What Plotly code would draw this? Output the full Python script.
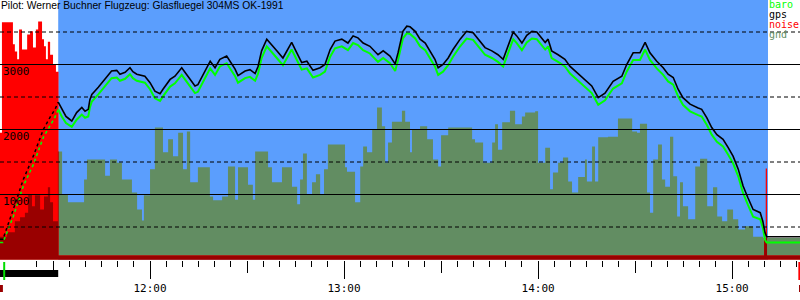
import numpy as np
import plotly.graph_objects as go

# ---------------- data ----------------
title_text = "Pilot: Werner Buchner Flugzeug: Glasfluegel 304MS OK-1991"

x_range = [673.6, 921.0]          # minutes since midnight (11:13.6 .. 15:21)
y_range = [-7.7, 3992.3]          # metres

takeoff_time = 674.9
release_time = 691.6
landing_time = 911.1
log_end_time = 920.8

hour_ticks = [720, 780, 840, 900]
hour_labels = ["12:00", "13:00", "14:00", "15:00"]
half_hour_ticks = [690, 750, 810, 870]
alt_ticks = [1000, 2000, 3000]
grid_solid = [1000, 2000, 3000]
grid_dashed = [500, 1500, 2500, 3500]

# aero-tow (drawn dotted)
tow_time = [673.6, 674.5, 677.7, 680.8, 683.9, 687.0, 689.1, 690.6, 691.6]
tow_gps = [310, 310, 770, 1230, 1590, 2000, 2190, 2310, 2420]
tow_baro = [260, 260, 660, 1130, 1460, 1880, 2060, 2190, 2310]

flight_time = [
    691.6, 692.7, 694.0, 695.3, 695.8, 697.3, 698.9, 699.9, 700.9, 701.4,
    702.0, 704.0, 706.1, 708.1, 709.7, 710.7, 712.3, 713.8, 714.7, 715.9,
    718.4, 720.0, 721.5, 723.1, 724.0, 726.2, 727.7, 729.8, 730.8, 732.4,
    733.9, 734.8, 736.4, 738.6, 740.1, 741.6, 743.7, 745.3, 746.3, 747.2,
    749.4, 750.9, 752.5, 753.4, 754.5, 756.1, 757.6, 759.2, 761.1, 762.7,
    763.8, 765.4, 766.9, 768.5, 770.4, 772.6, 774.1, 775.7, 777.2, 779.3,
    781.2, 782.8, 784.3, 785.9, 788.0, 790.5, 792.1, 794.2, 795.8, 796.7,
    798.2, 799.4, 800.4, 802.0, 803.5, 805.1, 806.6, 808.1, 809.1, 810.6,
    812.2, 813.7, 815.9, 817.9, 819.9, 822.1, 823.6, 825.7, 827.6, 829.2,
    830.7, 832.3, 833.4, 835.0, 836.5, 838.1, 839.6, 841.1, 842.2, 843.1,
    844.2, 846.2, 848.3, 849.9, 851.4, 853.0, 854.5, 856.6, 858.6, 860.7,
    863.2, 865.9, 867.4, 869.4, 871.5, 873.1, 874.6, 876.7, 878.7, 880.2,
    881.8, 883.3, 884.8, 887.0, 889.5, 890.6, 892.2, 893.7, 895.3, 897.2,
    898.8, 900.3, 901.9, 903.4, 904.9, 906.5, 908.7, 909.5, 910.2, 910.7,
    921.0,
]
flight_gps = [
    2420, 2310, 2200, 2150, 2130, 2260, 2340, 2280, 2310, 2460,
    2540, 2650, 2770, 2900, 2910, 2850, 2880, 2950, 2890, 2850,
    2820, 2720, 2590, 2550, 2620, 2770, 2820, 2950, 2880, 2770,
    2670, 2690, 2850, 3050, 2950, 3080, 3130, 3000, 2930, 2830,
    2900, 2920, 2860, 2970, 3210, 3390, 3310, 3210, 3100, 3230,
    3340, 3180, 3030, 3050, 2910, 2950, 3000, 3230, 3360, 3390,
    3330, 3440, 3410, 3330, 3280, 3150, 3210, 3130, 3010, 3180,
    3510, 3590, 3580, 3510, 3390, 3330, 3210, 3080, 2950, 3000,
    3100, 3230, 3390, 3510, 3490, 3360, 3260, 3210, 3150, 3080,
    3280, 3500, 3440, 3330, 3450, 3510, 3500, 3410, 3340, 3390,
    3210, 3150, 3080, 2970, 2900, 2830, 2770, 2670, 2490, 2560,
    2740, 2820, 3000, 3180, 3180, 3340, 3180, 3050, 2950, 2850,
    2800, 2620, 2490, 2390, 2330, 2310, 2180, 2030, 1920, 1850,
    1720, 1590, 1390, 1130, 950, 770, 720, 590, 410, 350,
    350,
]
flight_baro = [
    2310, 2200, 2100, 2060, 2040, 2150, 2230, 2180, 2200, 2340,
    2430, 2540, 2660, 2790, 2800, 2750, 2780, 2850, 2790, 2750,
    2720, 2620, 2480, 2440, 2510, 2660, 2710, 2840, 2770, 2660,
    2560, 2580, 2740, 2940, 2840, 2970, 3020, 2890, 2820, 2720,
    2790, 2810, 2750, 2860, 3100, 3280, 3200, 3100, 2990, 3120,
    3230, 3070, 2920, 2940, 2800, 2840, 2890, 3120, 3250, 3280,
    3220, 3330, 3300, 3220, 3170, 3040, 3100, 3020, 2900, 3070,
    3400, 3480, 3470, 3400, 3280, 3220, 3100, 2970, 2840, 2890,
    2990, 3120, 3280, 3400, 3380, 3250, 3150, 3100, 3040, 2970,
    3170, 3390, 3330, 3220, 3340, 3400, 3390, 3300, 3230, 3280,
    3100, 3040, 2970, 2860, 2790, 2720, 2660, 2560, 2380, 2450,
    2630, 2710, 2890, 3070, 3070, 3230, 3070, 2940, 2840, 2740,
    2690, 2510, 2380, 2280, 2220, 2200, 2070, 1920, 1810, 1740,
    1610, 1480, 1280, 1020, 840, 660, 620, 490, 300, 260,
    260,
]

# ground elevation under the track (step profile: start time -> metres)
gnd_time = [
    673.6, 675.8, 678.2, 679.8, 681.3, 682.3, 683.5, 684.4, 686.0, 687.2,
    688.4, 689.1, 690.0, 691.5, 692.8, 694.6, 699.6, 700.5, 706.1, 707.6,
    709.8, 711.3, 714.4, 716.0, 717.5, 718.1, 720.0, 721.5, 724.0, 725.6,
    727.1, 728.7, 730.2, 731.4, 732.4, 734.8, 738.5, 739.5, 742.3, 744.1,
    746.3, 747.2, 750.3, 751.8, 752.5, 756.5, 757.7, 760.8, 763.9, 765.5,
    766.4, 767.3, 768.5, 770.1, 771.3, 772.6, 773.8, 775.0, 780.3, 780.9,
    783.4, 785.0, 785.9, 787.1, 788.7, 790.2, 791.7, 792.7, 793.6, 794.8,
    797.9, 798.9, 800.4, 801.0, 803.5, 805.7, 807.5, 809.1, 810.0, 812.2,
    819.6, 820.5, 823.0, 825.8, 826.7, 827.6, 828.9, 831.3, 832.9, 835.0,
    836.0, 839.1, 840.0, 842.2, 843.7, 844.6, 846.2, 847.7, 849.3, 850.5,
    852.4, 854.5, 855.1, 856.7, 857.6, 858.6, 861.6, 864.7, 869.1, 870.6,
    871.5, 873.7, 874.6, 875.6, 877.1, 878.3, 879.3, 880.8, 881.8, 883.0,
    883.9, 884.8, 886.4, 888.6, 890.1, 892.3, 894.1, 895.4, 896.9, 898.5,
    900.3, 901.9, 904.0, 906.5, 909.6,
]
gnd_alt = [
    350, 420, 590, 650, 720, 1000, 820, 990, 770, 970,
    1110, 880, 590, 1660, 1000, 880, 1230, 1540, 1290, 1540,
    1490, 1230, 1030, 770, 600, 990, 1390, 2030, 1650, 1850,
    1590, 1950, 1390, 1970, 1190, 1420, 970, 910, 970, 1430,
    920, 1420, 1150, 920, 1660, 1420, 1190, 1420, 1120, 850,
    1230, 1630, 1000, 1190, 1310, 1000, 1390, 1770, 1420, 1350,
    880, 1430, 1740, 1650, 2000, 2340, 2050, 1490, 1800, 2120,
    2290, 2120, 1650, 2000, 2050, 1850, 1540, 1430, 1910, 2030,
    1850, 1800, 1490, 1800, 2080, 1690, 2110, 2290, 2080, 2200,
    2260, 2280, 1490, 1720, 1080, 1340, 1490, 1570, 1200, 1030,
    1270, 1540, 1200, 1740, 1200, 1880, 1890, 2170, 1970, 1950,
    2090, 1030, 720, 1540, 1770, 1230, 1120, 1890, 1280, 660,
    1190, 820, 620, 1430, 1550, 820, 1110, 660, 590, 770,
    620, 460, 510, 350, 330,
]

# engine / environmental noise level (step profile)
noise_time = [
    673.6, 674.2, 677.6, 678.2, 678.9, 679.5, 680.4, 682.0, 682.9, 683.8,
    684.7, 685.4, 686.6, 687.2, 687.8, 688.4, 689.1, 690.0, 690.9, 691.7,
    909.9, 910.4, 910.8,
]
noise_val = [
    1950, 3650, 3310, 3200, 3080, 3540, 3230, 3460, 3510, 3260,
    3540, 3660, 3390, 3280, 3080, 3350, 3150, 3000, 2890, 60,
    300, 1400, 60,
]

# ---------------- colours ----------------
sky = "#5b9efd"
gnd_col = "#628d62"
noise_col = "#ff0000"
overlap_col = "#990000"
baro_col = "#00ff00"
gps_col = "#000000"


def step_xy(t, v, t_end):
    return list(t) + [t_end], list(v) + [v[-1]]


def step_eval(t, v, q):
    idx = np.searchsorted(np.asarray(t), q, side="right") - 1
    return np.asarray(v)[idx]


fig = go.Figure()

gx, gy = step_xy(gnd_time, gnd_alt, x_range[1])
fig.add_trace(go.Scatter(x=gx, y=gy, mode="lines", line=dict(width=0, shape="hv"),
                         fill="tozeroy", fillcolor=gnd_col, hoverinfo="skip"))

nx, ny = step_xy(noise_time, noise_val, x_range[1])
fig.add_trace(go.Scatter(x=nx, y=ny, mode="lines", line=dict(width=0, shape="hv"),
                         fill="tozeroy", fillcolor=noise_col, hoverinfo="skip"))

union_t = np.unique(np.concatenate([gnd_time, noise_time]))
overlap = np.minimum(step_eval(gnd_time, gnd_alt, union_t),
                     step_eval(noise_time, noise_val, union_t))
ox, oy = step_xy(union_t.tolist(), overlap.tolist(), x_range[1])
fig.add_trace(go.Scatter(x=ox, y=oy, mode="lines", line=dict(width=0, shape="hv"),
                         fill="tozeroy", fillcolor=overlap_col, hoverinfo="skip"))

for v in grid_solid:
    fig.add_trace(go.Scatter(x=x_range, y=[v, v], xaxis="x2", mode="lines",
                             line=dict(color="black", width=1), hoverinfo="skip"))
for v in grid_dashed:
    fig.add_trace(go.Scatter(x=x_range, y=[v, v], xaxis="x2", mode="lines",
                             line=dict(color="black", width=1, dash="4px,3px"), hoverinfo="skip"))

fig.add_trace(go.Scatter(x=tow_time, y=tow_baro, mode="lines",
                         line=dict(color=baro_col, width=1.5, dash="dot")))
fig.add_trace(go.Scatter(x=tow_time, y=tow_gps, mode="lines",
                         line=dict(color=gps_col, width=1.5, dash="dot")))
fig.add_trace(go.Scatter(x=flight_time, y=flight_baro, mode="lines",
                         line=dict(color=baro_col, width=2)))
fig.add_trace(go.Scatter(x=flight_time, y=flight_gps, mode="lines",
                         line=dict(color=gps_col, width=1.6)))

# sky band between release and landing
fig.add_shape(type="rect", xref="x", yref="paper", x0=release_time, x1=landing_time,
              y0=0, y1=1, fillcolor=sky, line=dict(width=0), layer="below")

PLOT_H = 260.0


def py(p):
    return (PLOT_H - p) / PLOT_H


# event markers below the time axis
fig.add_shape(type="rect", xref="x", yref="paper", x0=x_range[0], x1=release_time,
              y0=py(277), y1=py(270), fillcolor="black", line=dict(width=0))
fig.add_shape(type="line", xref="x", yref="paper", x0=takeoff_time, x1=takeoff_time,
              y0=py(262), y1=py(280), line=dict(color="#00dd00", width=2))
fig.add_shape(type="rect", xref="x", yref="paper", x0=x_range[0], x1=takeoff_time - 0.4,
              y0=py(292), y1=py(285), fillcolor=overlap_col, line=dict(width=0))
fig.add_shape(type="line", xref="x", yref="paper", x0=log_end_time, x1=log_end_time,
              y0=py(262), y1=py(280), line=dict(color=noise_col, width=2))
fig.add_shape(type="rect", xref="x", yref="paper", x0=log_end_time - 0.1, x1=x_range[1],
              y0=py(292), y1=py(285), fillcolor=overlap_col, line=dict(width=0))

mono = "DejaVu Sans Mono"

fig.update_layout(
    width=800, height=300,
    margin=dict(l=0, r=0, t=0, b=40),
    plot_bgcolor="white", paper_bgcolor="white",
    showlegend=False,
    xaxis=dict(range=x_range, tickmode="array", tickvals=hour_ticks, ticktext=hour_labels,
               ticks="outside", ticklen=18, tickcolor="black", tickwidth=1,
               showgrid=False, zeroline=False, showline=False,
               tickfont=dict(family=mono, size=11, color="black"),
               minor=dict(tickmode="linear", tick0=0, dtick=5, ticks="outside",
                          ticklen=6, tickcolor="black", showgrid=False)),
    xaxis2=dict(range=x_range, overlaying="x", anchor="y", side="bottom",
                tickmode="array", tickvals=half_hour_ticks, ticks="outside", ticklen=12,
                tickcolor="black", showticklabels=False, showgrid=False,
                zeroline=False, showline=False),
    yaxis=dict(range=y_range, tickmode="array", tickvals=alt_ticks, ticks="",
               ticklabelposition="inside", ticklabelshift=7, ticklabelstandoff=0,
               showgrid=False, zeroline=False, showline=False,
               tickfont=dict(family=mono, size=11, color="black")),
)

fig.add_annotation(text=title_text, xref="paper", yref="paper", x=0, y=1,
                   xanchor="left", yanchor="top", showarrow=False, xshift=-1, yshift=2,
                   font=dict(family="Liberation Sans", size=10.3, color="black"))

legend_items = [("baro", baro_col), ("gps", "black"), ("noise", noise_col), ("gnd", gnd_col)]
for i, (name, col) in enumerate(legend_items):
    fig.add_annotation(text=name, xref="paper", yref="paper", x=769 / 800, y=1,
                       xanchor="left", yanchor="top", showarrow=False,
                       yshift=3 - 10 * i, xshift=-2,
                       font=dict(family=mono, size=10, color=col))

fig.write_html("out.html")
